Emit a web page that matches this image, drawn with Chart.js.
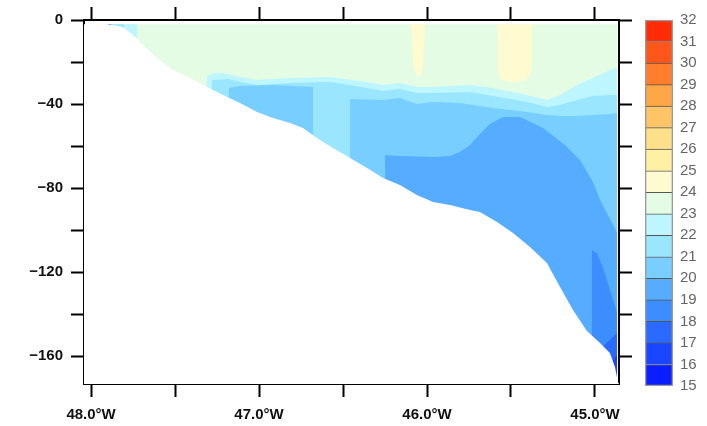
<!DOCTYPE html>
<html>
<head>
<meta charset="utf-8">
<script src="https://cdn.jsdelivr.net/npm/chart.js@4.4.1/dist/chart.umd.min.js"></script>
<style>
  html, body { margin: 0; padding: 0; background: #fff; }
  #wrap { position: relative; width: 707px; height: 426px; }
  #section { position: absolute; left: 0; top: 0; }
  #colorbar { position: absolute; left: 640px; top: 0; }
</style>
</head>
<body>
<div id="wrap">
  <canvas id="section" width="640" height="426"></canvas>
  <canvas id="colorbar" width="67" height="426"></canvas>
</div>
<script>
// temperature levels (degC) and one colour per 1-degree band
const levels = [15, 16, 17, 18, 19, 20, 21, 22, 23, 24, 25, 26, 27, 28, 29, 30, 31, 32];
const levelColors = ['#0a1eff', '#1a46ff', '#2a6aff', '#3c8eff', '#56acff', '#78ceff', '#9ae6ff', '#bef6ff',
                     '#e4fce4', '#fffbd0', '#fff0a4', '#ffe08a', '#ffc466', '#ffa646', '#ff7e2c', '#ff561a', '#ff2c06'];

// axes
const lonMin = -48.042, lonMax = -44.857;
const depthMin = -173.3, depthMax = 0;
const lonTicks = [-48, -47.5, -47, -46.5, -46, -45.5, -45];
const depthTicks = [-160, -140, -120, -100, -80, -60, -40, -20, 0];
const DEEP = -180; // below the plot: isotherm not present at that longitude

// sea floor along the section
const bottomLon = [-48.042, -47.899, -47.810, -47.750, -47.690, -47.607, -47.512, -47.411, -47.310, -47.214,
                   -47.113, -47.012, -46.917, -46.815, -46.738, -46.655, -46.560, -46.458, -46.357, -46.262,
                   -46.161, -46.060, -45.964, -45.863, -45.744, -45.685, -45.583, -45.488, -45.387, -45.286,
                   -45.208, -45.131, -45.048, -44.970, -44.911, -44.881, -44.863, -44.857];
const bottomDepth = [-2, -2, -3.3, -7.1, -11.9, -18.1, -23.8, -27.6, -31.9, -35.7,
                     -39.5, -43.8, -46.7, -49.0, -51.4, -56.2, -61.0, -65.7, -70.5, -75.2,
                     -78.6, -83.3, -86.7, -88.1, -90.5, -91.4, -96.2, -101.4, -108.1, -115.7,
                     -127.1, -138.1, -148.1, -153.8, -158.6, -165.2, -172.4, -173.3];

// first data level
const surfaceLon = [-47.905, -44.869];
const surfaceDepth = [-2, -2];

// warm (24-25) pockets near the surface
const warm1Lon = [-46.095, -46.089, -46.083, -46.071, -46.054, -46.036, -46.024, -46.018, -46.012];
const warm1Depth = [-2, -9.5, -20.0, -25.2, -27.1, -26.2, -21.4, -11.9, -2];
const warm2Lon = [-45.583, -45.577, -45.577, -45.554, -45.494, -45.417, -45.381, -45.375, -45.375, -45.372];
const warm2Depth = [-2, -9.5, -24.8, -28.6, -29.5, -29.0, -25.7, -19.0, -4.8, -2];

// isotherm depths (top of the colder water)
const t23Lon = [-47.905, -47.726, -47.723, -47.369, -47.310, -47.262, -47.214, -47.113, -47.012, -46.815,
                -46.577, -46.357, -46.262, -46.161, -46.060, -45.964, -45.744, -45.607, -45.405, -45.286,
                -45.208, -45.107, -45.012, -44.911, -44.869];
const t23Depth = [-2, -2, DEEP, DEEP, -26.7, -25.2, -25.2, -27.1, -28.6, -27.6,
                  -27.1, -29.5, -31.0, -30.0, -31.9, -31.9, -31.0, -32.4, -35.7, -38.1,
                  -35.7, -31.0, -27.6, -23.8, -22.4];

const t22Lon = [-47.893, -47.804, -47.801, -47.333, -47.280, -47.185, -47.113, -47.012, -46.815, -46.577,
                -46.357, -46.262, -46.161, -46.060, -45.964, -45.744, -45.607, -45.405, -45.286, -45.208,
                -45.107, -45.012, -44.911, -44.869];
const t22Depth = [-2, -2, DEEP, DEEP, -28.6, -28.1, -29.5, -31.0, -30.0, -29.5,
                  -32.4, -33.8, -32.9, -34.8, -34.8, -34.3, -36.2, -39.0, -41.4, -40.5,
                  -38.1, -36.2, -35.7, -35.7];

const t21Lon = [-47.196, -47.179, -47.113, -46.917, -46.679, -46.676, -46.461, -46.458, -46.262, -46.161,
                -46.060, -45.964, -45.804, -45.607, -45.405, -45.286, -45.208, -45.107, -45.012, -44.911, -44.869];
const t21Depth = [DEEP, -32.4, -31.4, -31.0, -31.9, DEEP, DEEP, -37.6, -38.1, -37.1,
                  -40.0, -39.0, -39.5, -41.9, -43.8, -45.2, -45.7, -45.7, -45.2, -44.8, -44.3];

const t20Lon = [-46.253, -46.250, -46.161, -45.964, -45.863, -45.804, -45.744, -45.685, -45.625, -45.548,
                -45.446, -45.310, -45.179, -45.089, -45.012, -44.970, -44.869];
const t20Depth = [DEEP, -64.3, -64.8, -65.2, -64.8, -62.9, -59.5, -54.3, -49.5, -46.2,
                  -46.2, -51.4, -59.5, -66.7, -77.1, -85.7, -101.0];

const t19Lon = [-45.021, -45.018, -44.988, -44.952, -44.911, -44.869];
const t19Depth = [DEEP, -109.5, -111.0, -118.1, -128.6, -139.0];

const t18Lon = [-44.949, -44.946, -44.911, -44.869];
const t18Depth = [DEEP, -154.8, -152.4, -149.0];

const t17Lon = [-47.905, -47.881, -47.878, -44.902, -44.899, -44.869];
const t17Depth = [-2, -2, DEEP, DEEP, -162.9, -159.5];

function pts(lons, depths) {
  return lons.map((x, i) => ({ x: x, y: depths[i] }));
}

function area(lons, depths, color, order, fill) {
  return {
    data: pts(lons, depths),
    backgroundColor: color,
    borderWidth: 0,
    pointRadius: 0,
    tension: 0,
    fill: fill || 'start',
    order: order
  };
}

const bandColor = t => levelColors[levels.indexOf(t)];

const datasets = [
  area(surfaceLon, surfaceDepth, bandColor(23), 10),
  area(warm1Lon, warm1Depth, bandColor(24), 9, { value: -2 }),
  area(warm2Lon, warm2Depth, bandColor(24), 8, { value: -2 }),
  area(t23Lon, t23Depth, bandColor(22), 7),
  area(t22Lon, t22Depth, bandColor(21), 6),
  area(t21Lon, t21Depth, bandColor(20), 5),
  area(t20Lon, t20Depth, bandColor(19), 4),
  area(t19Lon, t19Depth, bandColor(18), 3),
  area(t18Lon, t18Depth, bandColor(17), 2),
  area(t17Lon, t17Depth, bandColor(16), 1),
  area(bottomLon, bottomDepth, '#ffffff', 0)
];

const tickFont = { family: 'Liberation Sans', size: 15, weight: 'bold' };
const tickGrid = { drawOnChartArea: false, drawTicks: true, tickLength: 13, tickWidth: 2, tickColor: '#000' };
const axisBorder = { display: true, color: '#000', width: 2 };

function lonLabel(v) {
  return Number.isInteger(v) ? Math.abs(v).toFixed(1) + '°W' : '';
}
function depthLabel(v) {
  if (v % 40 !== 0) return '';
  return v < 0 ? '\u2212' + (-v) : '0';
}

new Chart(document.getElementById('section'), {
  type: 'line',
  data: { datasets: datasets },
  options: {
    responsive: false,
    animation: false,
    events: [],
    layout: { padding: 0 },
    plugins: { legend: { display: false }, tooltip: { enabled: false } },
    scales: {
      x: {
        type: 'linear', position: 'bottom', min: lonMin, max: lonMax,
        afterBuildTicks: s => { s.ticks = lonTicks.map(v => ({ value: v })); },
        afterFit: s => { s.height = 42; },
        ticks: { callback: lonLabel, font: tickFont, color: '#111', padding: 9, maxRotation: 0, autoSkip: false },
        grid: tickGrid, border: axisBorder
      },
      xTop: {
        type: 'linear', position: 'top', min: lonMin, max: lonMax,
        afterBuildTicks: s => { s.ticks = lonTicks.map(v => ({ value: v })); },
        afterFit: s => { s.height = 20; },
        ticks: { display: false },
        grid: tickGrid, border: axisBorder
      },
      y: {
        type: 'linear', position: 'left', min: depthMin, max: depthMax,
        afterBuildTicks: s => { s.ticks = depthTicks.map(v => ({ value: v })); },
        afterFit: s => { s.width = 84; },
        ticks: { callback: depthLabel, font: tickFont, color: '#111', padding: 8, autoSkip: false },
        grid: tickGrid, border: axisBorder
      },
      yRight: {
        type: 'linear', position: 'right', min: depthMin, max: depthMax,
        afterBuildTicks: s => { s.ticks = depthTicks.map(v => ({ value: v })); },
        afterFit: s => { s.width = 21; },
        ticks: { display: false },
        grid: tickGrid, border: axisBorder
      }
    }
  }
});

// colour key: one floating bar per band, plus an outline
const keyBars = levels.slice(0, -1).map((lo, i) => ({
  data: [[lo, lo + 1]],
  backgroundColor: levelColors[i],
  borderColor: '#555',
  borderWidth: { top: 1, right: 0, bottom: 0, left: 0 },
  borderSkipped: false,
  grouped: false,
  barPercentage: 1,
  categoryPercentage: 1,
  order: 1
}));
keyBars.push({
  data: [[15, 32]],
  backgroundColor: 'rgba(0,0,0,0)',
  borderColor: '#999',
  borderWidth: 1,
  borderSkipped: false,
  grouped: false,
  barPercentage: 1,
  categoryPercentage: 1,
  order: 0
});

new Chart(document.getElementById('colorbar'), {
  type: 'bar',
  data: { labels: [''], datasets: keyBars },
  options: {
    responsive: false,
    animation: false,
    events: [],
    layout: { padding: { left: 5, top: 20, bottom: 40, right: 0 } },
    plugins: { legend: { display: false }, tooltip: { enabled: false } },
    scales: {
      x: { display: false },
      y: {
        position: 'right', min: 15, max: 32,
        afterBuildTicks: s => { s.ticks = levels.map(v => ({ value: v })); },
        afterFit: s => { s.width = 34; },
        grid: { display: false, drawTicks: false },
        border: { display: false },
        ticks: { padding: 7, color: '#666', font: { family: 'Liberation Sans', size: 15 }, autoSkip: false }
      }
    }
  }
});
</script>
</body>
</html>
